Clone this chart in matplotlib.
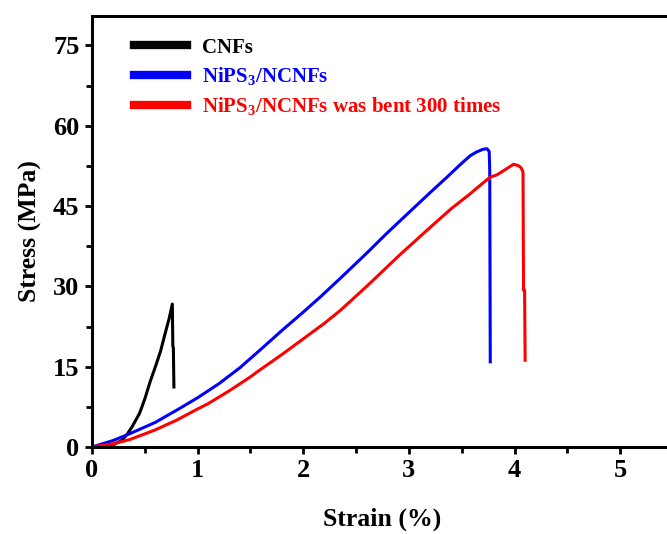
import matplotlib
matplotlib.use("Agg")
import matplotlib.pyplot as plt
from matplotlib.ticker import MultipleLocator

plt.rcParams["font.family"] = "Liberation Serif"
plt.rcParams["font.weight"] = "bold"
plt.rcParams["mathtext.fontset"] = "custom"
plt.rcParams["mathtext.bf"] = "Liberation Serif:bold"
plt.rcParams["mathtext.rm"] = "Liberation Serif:bold"
plt.rcParams["mathtext.default"] = "bf"

# strain (%) / stress (MPa) curves
cnf_strain = [0, 0.1, 0.2, 0.28, 0.33, 0.38, 0.45, 0.5, 0.55, 0.6, 0.65, 0.7, 0.73, 0.76, 0.765, 0.77, 0.775]
cnf_stress = [0, 0, 0.4, 1.2, 2.3, 3.8, 6.3, 9.0, 12.2, 15.0, 18.0, 21.8, 24.0, 26.7, 18.8, 18.5, 11.2]

nips_strain = [0, 0.2, 0.36, 0.6, 0.83, 1.0, 1.2, 1.4, 1.59, 1.8, 2.0, 2.16, 2.35, 2.6, 2.79, 3.0,
               3.2, 3.36, 3.5, 3.58, 3.64, 3.7, 3.74, 3.76, 3.765, 3.77]
nips_stress = [0, 1.2, 2.5, 4.6, 7.2, 9.2, 11.8, 14.8, 18.1, 21.8, 25.2, 28.0, 31.5, 36.2, 39.9, 43.8,
               47.5, 50.4, 53.0, 54.4, 55.1, 55.6, 55.7, 55.2, 51.5, 15.9]

bent_strain = [0, 0.2, 0.36, 0.6, 0.8, 0.99, 1.1, 1.2, 1.3, 1.4, 1.5, 1.59, 1.8, 2.0, 2.2, 2.35, 2.6,
               2.92, 3.2, 3.4, 3.58, 3.7, 3.77, 3.83, 3.88, 3.95, 3.99, 4.03, 4.06, 4.08, 4.085, 4.095, 4.1]
bent_stress = [0, 0.6, 1.4, 3.2, 5.0, 7.0, 8.1, 9.3, 10.5, 11.8, 13.1, 14.4, 17.3, 20.2, 23.1, 25.5, 30.0,
               36.0, 41.0, 44.5, 47.3, 49.3, 50.4, 50.8, 51.4, 52.3, 52.8, 52.6, 52.2, 51.4, 29.3, 29.3, 16.2]

labels = ["CNFs", "NiPS$_3$/NCNFs", "NiPS$_3$/NCNFs was bent 300 times"]
colors = ["black", "blue", "red"]

fig = plt.figure(figsize=(6.67, 5.34), dpi=100)
ax = fig.add_axes([0.138, 0.163, 0.871, 0.807])

for x, y, lab, c in zip([cnf_strain, nips_strain, bent_strain],
                        [cnf_stress, nips_stress, bent_stress], labels, colors):
    ax.plot(x, y, color=c, lw=2.2, label=lab)

ax.set_xlim(0, 5.5)
ax.set_ylim(0, 80.5)
ax.xaxis.set_major_locator(MultipleLocator(1))
ax.xaxis.set_minor_locator(MultipleLocator(0.5))
ax.yaxis.set_major_locator(MultipleLocator(15))
ax.yaxis.set_minor_locator(MultipleLocator(7.5))
ax.tick_params(which="major", length=5, width=2, labelsize=19, direction="out", pad=4)
ax.tick_params(which="minor", length=4, width=2, direction="out")
for s in ["left", "bottom", "top"]:
    ax.spines[s].set_linewidth(2.2)
ax.spines["right"].set_visible(False)

ax.set_xlabel("Strain (%)", fontsize=18.5, fontweight="bold", labelpad=18)
ax.set_ylabel("Stress (MPa)", fontsize=18.5, fontweight="bold", labelpad=8)

leg = ax.legend(loc="upper left", bbox_to_anchor=(0.073, 0.95), frameon=False,
                fontsize=15, handlelength=2.5, handletextpad=0.75, labelspacing=0.38,
                labelcolor="linecolor", borderaxespad=0, borderpad=0)
for h in leg.get_lines():
    h.set_linewidth(6)

fig.savefig("out.png", dpi=100)
